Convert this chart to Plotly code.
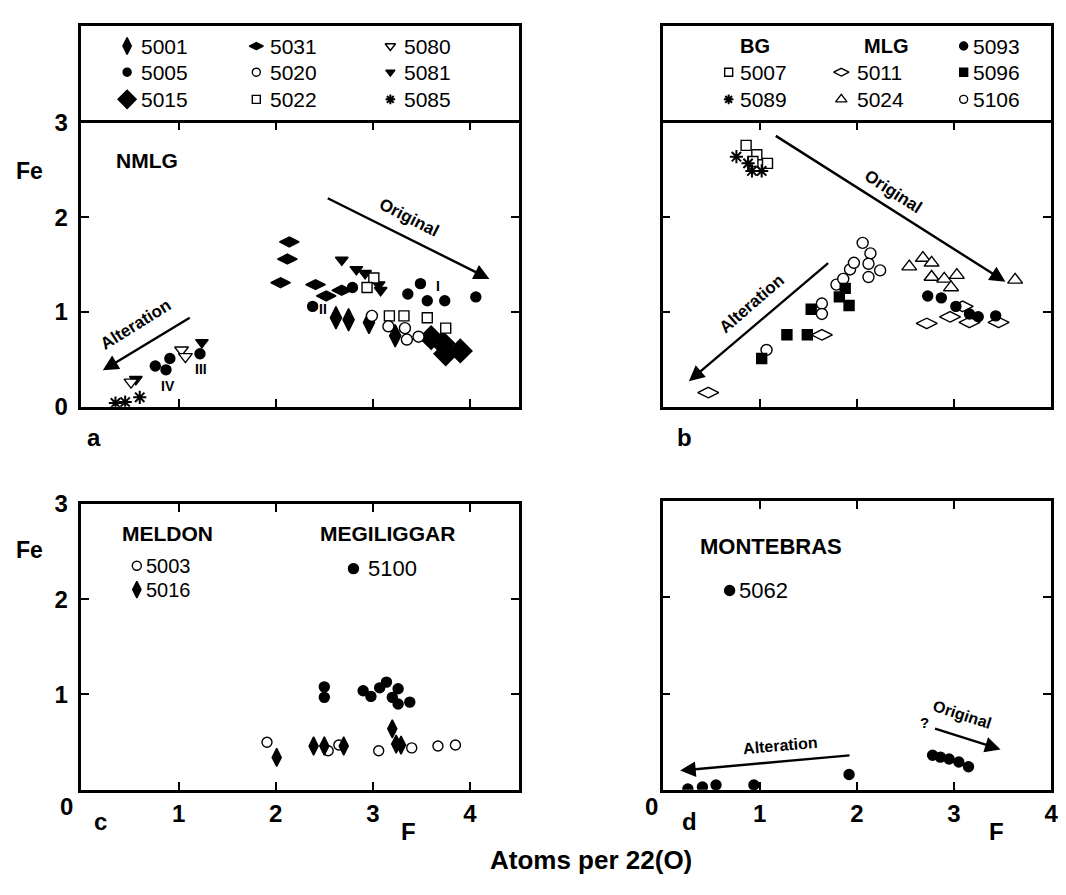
import plotly.graph_objects as go

W, H = 1066, 895

# ---------------- data (F, Fe atoms per 22(O)) ----------------
# panel a : NMLG
a_5001_x = [2.62, 2.75, 2.96, 3.23]
a_5001_y = [0.94, 0.92, 0.89, 0.75]
a_5005_x = [2.38, 2.79, 3.36, 3.49, 3.56, 3.74, 4.06, 0.76, 0.87, 0.91, 1.22]
a_5005_y = [1.06, 1.26, 1.19, 1.30, 1.12, 1.12, 1.16, 0.43, 0.39, 0.51, 0.56]
a_5015_x = [3.60, 3.72, 3.75, 3.90]
a_5015_y = [0.73, 0.67, 0.56, 0.59]
a_5031_x = [2.05, 2.12, 2.14, 2.41, 2.52, 2.68]
a_5031_y = [1.31, 1.56, 1.74, 1.29, 1.17, 1.23]
a_5020_x = [2.99, 3.16, 3.33, 3.35, 3.47]
a_5020_y = [0.96, 0.85, 0.83, 0.71, 0.74]
a_5022_x = [3.01, 2.94, 3.17, 3.32, 3.56, 3.75]
a_5022_y = [1.36, 1.26, 0.96, 0.96, 0.94, 0.83]
a_5080_x = [0.51, 1.03, 1.07]
a_5080_y = [0.26, 0.60, 0.53]
a_5081_x = [2.68, 2.83, 2.92, 3.06, 3.08, 1.24, 0.56]
a_5081_y = [1.55, 1.45, 1.41, 1.29, 1.23, 0.68, 0.29]
a_5085_x = [0.35, 0.45, 0.60]
a_5085_y = [0.04, 0.05, 0.10]

# panel b : BG and MLG
b_5007_x = [0.86, 0.97, 0.93, 1.08]
b_5007_y = [2.76, 2.66, 2.59, 2.57]
b_5089_x = [0.76, 0.88, 0.92, 1.02]
b_5089_y = [2.64, 2.57, 2.49, 2.49]
b_5011_x = [2.72, 2.96, 3.09, 3.16, 3.46, 1.64, 0.47]
b_5011_y = [0.88, 0.95, 1.06, 0.89, 0.89, 0.76, 0.15]
b_5024_x = [2.54, 2.68, 2.77, 2.77, 2.90, 3.03, 2.97, 3.63]
b_5024_y = [1.48, 1.57, 1.52, 1.37, 1.35, 1.39, 1.26, 1.34]
b_5093_x = [2.73, 2.87, 3.02, 3.16, 3.25, 3.43]
b_5093_y = [1.17, 1.15, 1.06, 0.98, 0.95, 0.96]
b_5096_x = [1.02, 1.28, 1.49, 1.53, 1.82, 1.88, 1.92]
b_5096_y = [0.51, 0.76, 0.76, 1.03, 1.16, 1.25, 1.07]
b_5106_x = [1.07, 1.64, 1.64, 1.79, 1.86, 1.93, 1.97, 2.06, 2.14, 2.12, 2.12, 2.24]
b_5106_y = [0.60, 1.09, 0.98, 1.29, 1.35, 1.45, 1.52, 1.73, 1.62, 1.51, 1.37, 1.44]

# panel c : Meldon and Megiliggar
c_5003_x = [1.91, 2.54, 2.65, 3.06, 3.40, 3.67, 3.85]
c_5003_y = [0.50, 0.41, 0.47, 0.41, 0.44, 0.46, 0.47]
c_5016_x = [2.01, 2.39, 2.50, 2.70, 3.20, 3.24, 3.29]
c_5016_y = [0.34, 0.46, 0.46, 0.46, 0.64, 0.48, 0.47]
c_5100_x = [2.50, 2.50, 2.90, 2.98, 3.07, 3.14, 3.20, 3.26, 3.26, 3.38]
c_5100_y = [1.08, 0.97, 1.04, 0.98, 1.07, 1.13, 0.97, 1.06, 0.90, 0.92]

# panel d : Montebras
d_5062_x = [0.26, 0.41, 0.55, 0.94, 1.92, 2.78, 2.86, 2.95, 3.05, 3.15]
d_5062_y = [0.01, 0.03, 0.05, 0.05, 0.16, 0.36, 0.34, 0.32, 0.29, 0.24]

# trend arrows: (tail x, tail y, head x, head y)
arrows_a = [(1.13, 0.95, 0.22, 0.385), (2.52, 2.21, 4.20, 1.35)]
arrows_b = [(1.72, 1.53, 0.27, 0.27), (1.15, 2.87, 3.53, 1.32)]
arrows_d = [(1.94, 0.36, 0.18, 0.20), (2.79, 0.64, 3.48, 0.42)]

y_ticks = [0, 1, 2, 3]
x_ticks = [0, 1, 2, 3, 4]

# ---------------- styles ----------------
FONT = "Liberation Sans, Arial, Helvetica, sans-serif"
BLACK = "black"

def mk(symbol, size, filled=True, lw=1.4):
    return dict(symbol=symbol, size=size,
                color=BLACK if filled else "white",
                line=dict(color=BLACK, width=lw))

STY = {
    "5001": mk("diamond-tall", 16),
    "5005": mk("circle", 10),
    "5015": mk("diamond", 18),
    "5031": mk("diamond-wide", 14),
    "5020": mk("circle", 11, False),
    "5022": mk("square", 10, False),
    "5080": mk("triangle-down", 12, False),
    "5081": mk("triangle-down", 11),
    "5085": dict(symbol="asterisk-open", size=11, color=BLACK, line=dict(color=BLACK, width=2)),
    "5007": mk("square", 10, False),
    "5089": dict(symbol="asterisk-open", size=11, color=BLACK, line=dict(color=BLACK, width=2)),
    "5011": mk("diamond-wide", 15, False),
    "5024": mk("triangle-up", 13, False),
    "5093": mk("circle", 10),
    "5096": mk("square", 10),
    "5106": mk("circle", 11, False),
    "5003": mk("circle", 10, False),
    "5016": mk("diamond-tall", 13),
    "5100": mk("circle", 10),
    "5062": mk("circle", 10),
}

def small(name, f=0.75):
    s = dict(STY[name])
    s["size"] = max(6, round(s["size"] * f))
    return s

fig = go.Figure()

def add(x, y, name, ax):
    fig.add_trace(go.Scatter(x=x, y=y, mode="markers", name=name,
                             marker=STY[name], xaxis="x" + ax, yaxis="y" + ax,
                             showlegend=False, hoverinfo="x+y+name"))

# panel a
for nm, xs, ys in [("5031", a_5031_x, a_5031_y), ("5005", a_5005_x, a_5005_y),
                   ("5081", a_5081_x, a_5081_y), ("5001", a_5001_x, a_5001_y),
                   ("5015", a_5015_x, a_5015_y), ("5022", a_5022_x, a_5022_y),
                   ("5020", a_5020_x, a_5020_y), ("5080", a_5080_x, a_5080_y),
                   ("5085", a_5085_x, a_5085_y)]:
    add(xs, ys, nm, "")
# panel b
for nm, xs, ys in [("5007", b_5007_x, b_5007_y), ("5089", b_5089_x, b_5089_y),
                   ("5024", b_5024_x, b_5024_y), ("5011", b_5011_x, b_5011_y),
                   ("5093", b_5093_x, b_5093_y), ("5106", b_5106_x, b_5106_y),
                   ("5096", b_5096_x, b_5096_y)]:
    add(xs, ys, nm, "2")
# panel c
for nm, xs, ys in [("5003", c_5003_x, c_5003_y), ("5016", c_5016_x, c_5016_y),
                   ("5100", c_5100_x, c_5100_y)]:
    add(xs, ys, nm, "3")
# panel d
add(d_5062_x, d_5062_y, "5062", "4")

annotations = []

def txt(x, y, text, size, xref="paper", yref="paper", bold=True, xanchor="center",
        angle=0, yanchor="middle"):
    annotations.append(dict(x=x, y=y, xref=xref, yref=yref, text=text, showarrow=False,
                            xanchor=xanchor, yanchor=yanchor, textangle=angle,
                            font=dict(family=FONT, size=size, color=BLACK,
                                      weight="bold" if bold else "normal")))

def key(ax, x, y, name, size, f=0.75, gap=0.12, bold=False):
    fig.add_trace(go.Scatter(x=[x], y=[y], mode="markers", marker=small(name, f),
                             xaxis="x" + ax, yaxis="y" + ax, showlegend=False,
                             hoverinfo="skip"))
    txt(x + gap, y, name, size, "x" + ax, "y" + ax, bold=bold, xanchor="left")

# legend box a (3 x 3)
rows = [0.79, 0.52, 0.24]
cols_a = [0.47, 1.80, 3.18]
grid_a = [["5001", "5005", "5015"], ["5031", "5020", "5022"], ["5080", "5081", "5085"]]
for ci, col in enumerate(grid_a):
    for ri, nm in enumerate(col):
        key("5", cols_a[ci], rows[ri], nm, 21, gap=0.12)

# legend box b
cols_b = [0.68, 1.84, 3.10]
txt(0.95, rows[0], "BG", 20, "x6", "y6")
txt(2.30, rows[0], "MLG", 20, "x6", "y6")
key("6", cols_b[0], rows[1], "5007", 21, gap=0.10)
key("6", cols_b[0], rows[2], "5089", 21, gap=0.10)
key("6", cols_b[1], rows[1], "5011", 21, gap=0.14)
key("6", cols_b[1], rows[2], "5024", 21, gap=0.14)
key("6", cols_b[2], rows[0], "5093", 21, gap=0.08)
key("6", cols_b[2], rows[1], "5096", 21, gap=0.08)
key("6", cols_b[2], rows[2], "5106", 21, gap=0.08)

# keys inside panels c, d
key("3", 0.57, 2.35, "5003", 20, f=0.9, gap=0.07)
key("3", 0.57, 2.10, "5016", 20, f=0.9, gap=0.07)
key("3", 2.80, 2.32, "5100", 22, f=0.95, gap=0.13)
key("4", 0.69, 2.07, "5062", 22, f=0.95, gap=0.08)

# panel titles
txt(0.34, 2.60, "NMLG", 21, "x", "y", xanchor="left")
txt(0.40, 2.69, "MELDON", 21, "x3", "y3", xanchor="left")
txt(3.15, 2.69, "MEGILIGGAR", 21, "x3", "y3")
txt(0.36, 2.53, "MONTEBRAS", 22, "x4", "y4", xanchor="left")

# roman numerals in panel a
txt(3.67, 1.28, "I", 14, "x", "y")
txt(2.49, 1.03, "II", 14, "x", "y")
txt(1.23, 0.40, "III", 14, "x", "y")
txt(0.89, 0.22, "IV", 14, "x", "y")

# arrows
def arrow(ax, a):
    tx, ty, hx, hy = a
    annotations.append(dict(x=hx, y=hy, ax=tx, ay=ty, xref="x" + ax, yref="y" + ax,
                            axref="x" + ax, ayref="y" + ax, text="", showarrow=True,
                            arrowhead=2, arrowsize=1.3, arrowwidth=2.4,
                            arrowcolor=BLACK, standoff=0, startstandoff=0))

for a in arrows_a:
    arrow("", a)
for a in arrows_b:
    arrow("2", a)
for a in arrows_d:
    arrow("4", a)

txt(0.56, 0.87, "Alteration", 17, "x", "y", angle=-32)
txt(3.37, 2.00, "Original", 17, "x", "y", angle=27)
txt(0.92, 1.09, "Alteration", 17, "x2", "y2", angle=-41)
txt(2.37, 2.27, "Original", 17, "x2", "y2", angle=33)
txt(1.21, 0.46, "Alteration", 16, "x4", "y4", angle=-5)
txt(3.08, 0.78, "Original", 16, "x4", "y4", angle=18)
txt(2.70, 0.70, "?", 15, "x4", "y4")

# figure-level labels (paper coords from pixel positions)
def P(px, py):
    return px / W, 1 - py / H

for (px, py, s, sz) in [(30, 162, "Fe", 23), (30, 553, "Fe", 23),
                        (95, 437, "a", 24), (689, 437, "b", 24),
                        (101, 833, "c", 24), (694, 833, "d", 24),
                        (411, 843, "F", 24), (1003, 843, "F", 24),
                        (67, 817, "0", 24), (656, 817, "0", 24),
                        (595, 872, "Atoms per 22(O)", 26)]:
    x, y = P(px, py)
    txt(x, y, s, sz)

# ---------------- axes ----------------
def dx(l, r):
    return [l / W, r / W]

def dy(t, b):
    return [1 - b / H, 1 - t / H]

base = dict(showline=True, linecolor=BLACK, linewidth=2.5, mirror="ticks",
            ticks="inside", ticklen=8, tickwidth=2, tickcolor=BLACK,
            showgrid=False, zeroline=False, fixedrange=True,
            tickfont=dict(family=FONT, size=24, color=BLACK, weight="bold"))

def xa(dom, rng, labels, anchor, vals=x_ticks):
    d = dict(base, domain=dom, range=rng, anchor=anchor, tickvals=vals,
             showticklabels=labels)
    if labels:
        d["ticktext"] = ["" if v == 0 else str(v) for v in vals]
        d["ticklabelstandoff"] = 1
    return d

def ya(dom, labels, anchor, text):
    return dict(base, domain=dom, range=[0, 3], anchor=anchor, tickvals=y_ticks,
                ticktext=text, showticklabels=labels, ticklabelstandoff=6)

XA, XB = dx(82, 522), dx(667, 1058)
YTOP = dy(112, 405)
YLEG = dy(12, 112)

def leg_x(dom, rng, anchor):
    # only the top border: the bottom border is the panel's own top line
    return dict(domain=dom, range=rng, anchor=anchor, side="top", showline=True,
                mirror=False, linecolor=BLACK, linewidth=2.5, showticklabels=False,
                ticks="", showgrid=False, zeroline=False, fixedrange=True)

def leg_y(anchor):
    return dict(domain=YLEG, range=[0, 1], anchor=anchor, showline=True, mirror=True,
                linecolor=BLACK, linewidth=2.5, showticklabels=False, ticks="",
                showgrid=False, zeroline=False, fixedrange=True)

layout = dict(
    width=W, height=H, margin=dict(l=0, r=0, t=0, b=0),
    paper_bgcolor="white", plot_bgcolor="white", showlegend=False,
    font=dict(family=FONT, color=BLACK),
    xaxis=xa(XA, [0, 4.5], False, "y"),
    yaxis=ya(YTOP, True, "x", ["0", "1", "2", "3"]),
    xaxis2=xa(XB, [0, 4], False, "y2"),
    yaxis2=ya(YTOP, False, "x2", None),
    xaxis3=xa(XA, [0, 4.5], True, "y3"),
    yaxis3=ya(dy(505, 800), True, "x3", ["", "1", "2", "3"]),
    xaxis4=xa(XB, [0, 4], True, "y4"),
    yaxis4=ya(dy(502, 800), False, "x4", None),
    xaxis5=leg_x(XA, [0, 4.5], "y5"),
    yaxis5=leg_y("x5"),
    xaxis6=leg_x(XB, [0, 4], "y6"),
    yaxis6=leg_y("x6"),
    annotations=annotations,
)
fig.update_layout(**layout)

fig.write_html("out.html")
